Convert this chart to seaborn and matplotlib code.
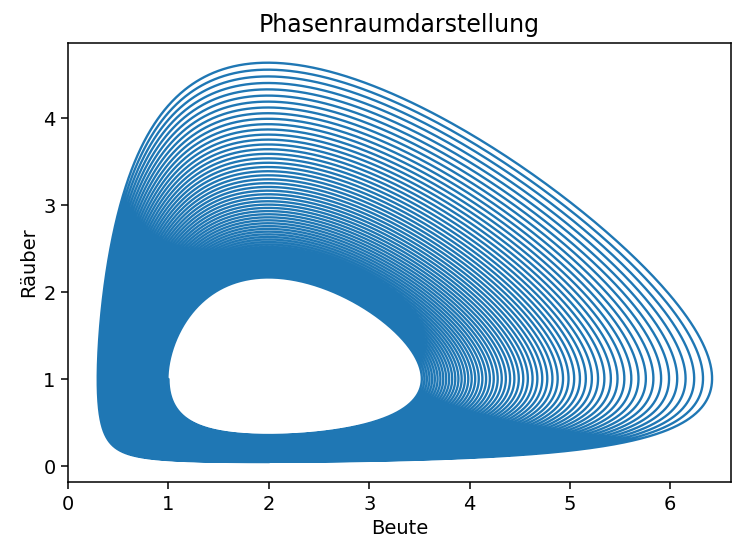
import numpy as np
import pandas as pd
import seaborn as sns
import matplotlib
matplotlib.use("Agg")
import matplotlib.pyplot as plt

# Lotka-Volterra model parameters (prey x, predator y), explicit Euler
alpha = [1.0]   # prey growth
beta = [1.0]    # predation rate
gamma = [1.0]   # predator growth per prey
delta = [2.0]   # predator death
start = [1.0, 1.0]   # initial prey, predator
step = [0.003]
prey_max = [6.34]    # outermost prey value reached

a, b, c, d = alpha[0], beta[0], gamma[0], delta[0]
h = step[0]
xs = [start[0]]
ys = [start[1]]
phase = 0
for i in range(3_000_000):
    x, y = xs[-1], ys[-1]
    dx = x * (a - b * y)
    dy = y * (c * x - d)
    if phase == 0 and x >= prey_max[0]:
        phase = 1
    elif phase == 1 and dy < 0:
        phase = 2
    elif phase == 2 and dy > 0:
        break
    xs.append(x + h * dx)
    ys.append(y + h * dy)

df = pd.DataFrame({"Beute": xs, "Räuber": ys})

sns.set_style("ticks")
plt.rcParams["font.family"] = ["DejaVu Sans"]
for key in ["text.color", "axes.labelcolor", "xtick.color", "ytick.color", "axes.edgecolor"]:
    plt.rcParams[key] = "black"
fig = plt.figure(figsize=(7.32, 5.41), dpi=100)
ax = fig.add_axes([0.093, 0.109, 0.905, 0.812])
sns.lineplot(data=df, x="Beute", y="Räuber", sort=False, estimator=None,
             color="#1f77b4", linewidth=1.7, ax=ax)
ax.set_xlim(0, 6.6)
ax.set_title("Phasenraumdarstellung", fontsize=17, pad=8)
ax.set_xlabel("Beute", fontsize=14)
ax.set_ylabel("Räuber", fontsize=14)
ax.tick_params(labelsize=14, length=5, width=1.1, pad=4)
for s in ax.spines.values():
    s.set_linewidth(1.1)
fig.savefig("out.png", dpi=100)
